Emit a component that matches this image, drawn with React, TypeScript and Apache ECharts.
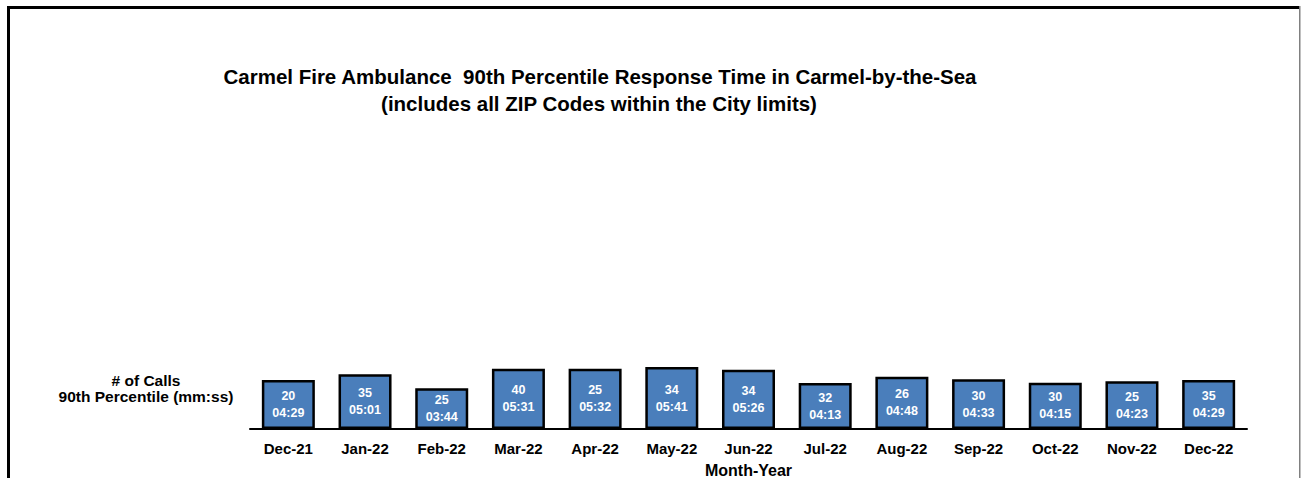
import React, { useEffect, useRef } from "react";
import * as echarts from "echarts";

const months = ["Dec-21", "Jan-22", "Feb-22", "Mar-22", "Apr-22", "May-22", "Jun-22", "Jul-22", "Aug-22", "Sep-22", "Oct-22", "Nov-22", "Dec-22"];
const calls = [20, 35, 25, 40, 25, 34, 34, 32, 26, 30, 30, 25, 35];
const times = ["04:29", "05:01", "03:44", "05:31", "05:32", "05:41", "05:26", "04:13", "04:48", "04:33", "04:15", "04:23", "04:29"];

const titleLine1 = "Carmel Fire Ambulance  90th Percentile Response Time in Carmel-by-the-Sea";
const titleLine2 = "(includes all ZIP Codes within the City limits)";
const rowLabel1 = "# of Calls";
const rowLabel2 = "90th Percentile (mm:ss)";

const toSeconds = (t: string) => {
  const [m, s] = t.split(":").map(Number);
  return m * 60 + s;
};

export default function App() {
  const ref = useRef<HTMLDivElement>(null);
  useEffect(() => {
    if (!ref.current) return;
    const chart = echarts.init(ref.current, undefined, { renderer: "svg" });
    const font = "Liberation Sans, Arial, sans-serif";
    const data = times.map((t, i) => ({
      value: toSeconds(t),
      label: { formatter: `${calls[i]}\n${t}` },
    }));
    chart.setOption({
      animation: false,
      backgroundColor: "#ffffff",
      textStyle: { fontFamily: font },
      grid: { left: 250, right: 55, top: 129, bottom: 49, containLabel: false, outerBoundsMode: "none" },
      xAxis: {
        type: "category",
        data: months,
        axisLine: { show: true, lineStyle: { color: "#000", width: 2 } },
        axisTick: { show: false },
        axisLabel: { color: "#000", fontWeight: "bold", fontSize: 15, fontFamily: font, margin: 12 },
        name: "Month-Year",
        nameLocation: "middle",
        nameGap: 33,
        nameTextStyle: { color: "#000", fontWeight: "bold", fontSize: 16, fontFamily: font },
      },
      yAxis: { type: "value", show: false, min: 0, max: 1650, splitLine: { show: false } },
      series: [
        {
          type: "bar",
          data,
          barWidth: 53,
          itemStyle: { color: "#4a7ebb", borderColor: "#000", borderWidth: 2.5 },
          label: {
            show: true,
            position: "inside",
            color: "#fff",
            fontWeight: "bold",
            fontSize: 12.5,
            lineHeight: 17,
            fontFamily: font,
          },
        },
      ],
      graphic: [
        { type: "rect", shape: { x: 7, y: 6, width: 3, height: 480 }, style: { fill: "#000" } },
        { type: "rect", shape: { x: 7, y: 6, width: 1293, height: 3 }, style: { fill: "#000" } },
        { type: "rect", shape: { x: 1299, y: 6, width: 1.5, height: 480 }, style: { fill: "#808080" } },
        {
          type: "text",
          x: 600,
          y: 76,
          style: { text: titleLine1, fill: "#000", font: `bold 20.5px ${font}`, textAlign: "center", textVerticalAlign: "middle" },
        },
        {
          type: "text",
          x: 599,
          y: 103,
          style: { text: titleLine2, fill: "#000", font: `bold 20.5px ${font}`, textAlign: "center", textVerticalAlign: "middle" },
        },
        {
          type: "text",
          x: 146,
          y: 380,
          style: { text: rowLabel1, fill: "#000", font: `bold 15.5px ${font}`, textAlign: "center", textVerticalAlign: "middle" },
        },
        {
          type: "text",
          x: 146,
          y: 396,
          style: { text: rowLabel2, fill: "#000", font: `bold 15.5px ${font}`, textAlign: "center", textVerticalAlign: "middle" },
        },
      ],
    });
    return () => chart.dispose();
  }, []);
  return <div ref={ref} style={{ position: "absolute", left: 0, top: 0, width: 1302, height: 478 }} />;
}
